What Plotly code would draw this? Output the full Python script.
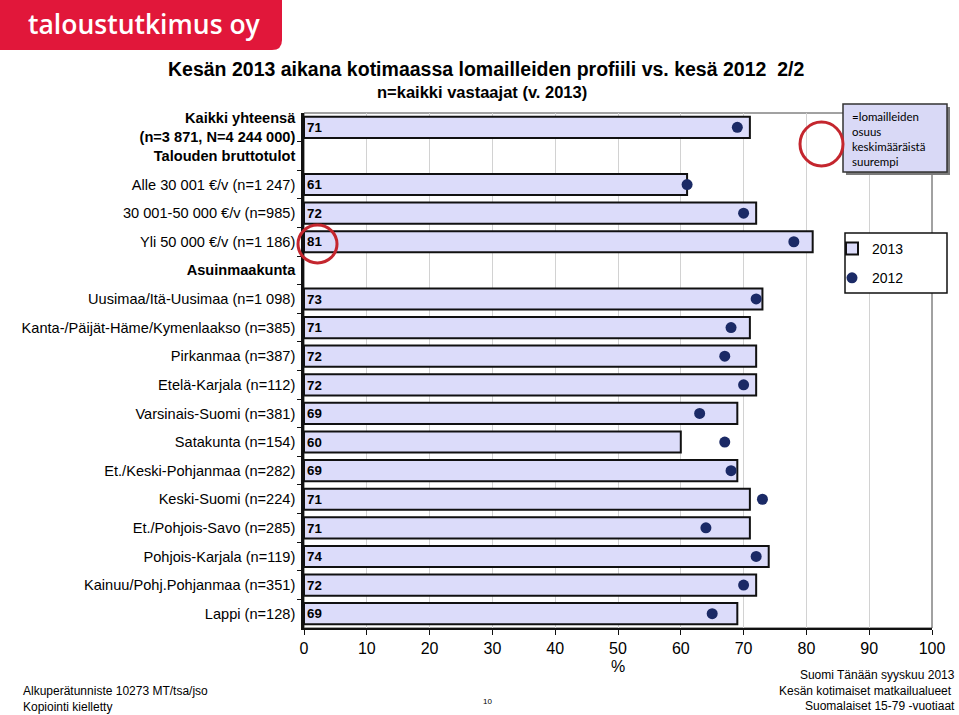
import plotly.graph_objects as go

# ---------------- data ----------------
categories = [
    "Kaikki yhteensä<br>(n=3 871, N=4 244 000)",
    "Talouden bruttotulot",
    "Alle 30 001 €/v (n=1 247)",
    "30 001-50 000 €/v (n=985)",
    "Yli 50 000 €/v (n=1 186)",
    "Asuinmaakunta",
    "Uusimaa/Itä-Uusimaa (n=1 098)",
    "Kanta-/Päijät-Häme/Kymenlaakso (n=385)",
    "Pirkanmaa (n=387)",
    "Etelä-Karjala (n=112)",
    "Varsinais-Suomi (n=381)",
    "Satakunta (n=154)",
    "Et./Keski-Pohjanmaa (n=282)",
    "Keski-Suomi (n=224)",
    "Et./Pohjois-Savo (n=285)",
    "Pohjois-Karjala (n=119)",
    "Kainuu/Pohj.Pohjanmaa (n=351)",
    "Lappi (n=128)",
]
bold_rows = [0, 1, 5]
values_2013 = [71, None, 61, 72, 81, None, 73, 71, 72, 72, 69, 60, 69, 71, 71, 74, 72, 69]
values_2012 = [69, None, 61, 70, 78, None, 72, 68, 67, 70, 63, 67, 68, 73, 64, 72, 70, 65]
x_ticks = [0, 10, 20, 30, 40, 50, 60, 70, 80, 90, 100]

rows = list(range(len(categories)))
tick_text = [f"<b>{c}</b>" if i in bold_rows else c for i, c in enumerate(categories)]

# ---------------- layout helpers (pixel -> paper) ----------------
W, H = 959, 715
L, R, T, B = 304, 932, 113, 628


def px(x):
    return (x - L) / (R - L)


def py(y):
    return (B - y) / (B - T)


FONT = "Liberation Sans, Arial, sans-serif"
BAR_FILL = "#dcdcfa"
DOT = "#1b2a66"
RED = "#c4262e"

fig = go.Figure()
fig.add_trace(go.Bar(
    x=values_2013, y=rows, orientation="h", name="2013",
    width=0.74,
    marker=dict(color=BAR_FILL, line=dict(color="#111111", width=2)),
    text=[str(v) if v is not None else "" for v in values_2013],
    textposition="inside", insidetextanchor="start", textangle=0,
    textfont=dict(family=FONT, size=14, color="black", weight="bold"),
    legendgroup="a",
))
fig.add_trace(go.Scatter(
    x=values_2012, y=rows, mode="markers", name="2012",
    marker=dict(color=DOT, size=11),
    legendgroup="b",
))

shapes = []
# plot frame
shapes.append(dict(type="rect", xref="paper", yref="paper", x0=0, x1=1, y0=0, y1=1,
                   line=dict(color="#444444", width=1), layer="below"))
# logo
shapes.append(dict(
    type="path", xref="paper", yref="paper",
    path=(f"M {px(0)},{py(0)} L {px(282)},{py(0)} L {px(282)},{py(40)} "
          f"Q {px(282)},{py(50)} {px(272)},{py(50)} L {px(0)},{py(50)} Z"),
    fillcolor="#e1173a", line=dict(width=0)))
# note box (shadow + box)
shapes.append(dict(type="rect", xref="paper", yref="paper",
                   x0=px(846), x1=px(950), y0=py(175), y1=py(107),
                   fillcolor="#7a7a7a", line=dict(width=0)))
shapes.append(dict(type="rect", xref="paper", yref="paper",
                   x0=px(843), x1=px(947), y0=py(172), y1=py(104),
                   fillcolor="#d9d9f6", line=dict(color="#333333", width=1.5)))
# legend box
shapes.append(dict(type="rect", xref="paper", yref="paper",
                   x0=px(845), x1=px(947), y0=py(293), y1=py(233),
                   fillcolor="white", line=dict(color="#111111", width=1.5)))
# red circles
shapes.append(dict(type="circle", xref="paper", yref="paper",
                   x0=px(800), x1=px(843), y0=py(166), y1=py(122),
                   line=dict(color=RED, width=3)))
shapes.append(dict(type="circle", xref="paper", yref="paper",
                   x0=px(298), x1=px(337), y0=py(263), y1=py(225),
                   line=dict(color=RED, width=3)))

annotations = [
    dict(text="taloustutkimus oy", x=px(26), y=py(24), xanchor="left", yanchor="middle",
         font=dict(family="Open Sans, sans-serif", size=26.5, color="white", weight=600)),
    dict(text="<b>Kesän 2013 aikana kotimaassa lomailleiden profiili vs. kesä 2012  2/2</b>",
         x=px(486), y=py(69), xanchor="center", yanchor="middle",
         font=dict(family=FONT, size=19.5, color="black")),
    dict(text="<b>n=kaikki vastaajat (v. 2013)</b>",
         x=px(482), y=py(92), xanchor="center", yanchor="middle",
         font=dict(family=FONT, size=16.5, color="black")),
    dict(text="=lomailleiden<br>osuus<br>keskimääräistä<br>suurempi",
         x=px(850), y=py(108), xanchor="left", yanchor="top", align="left",
         font=dict(family="Lato, sans-serif", size=11.5, color="black")),
    dict(text="Alkuperätunniste 10273 MT/tsa/jso<br>Kopiointi kielletty",
         x=px(21), y=py(699), xanchor="left", yanchor="middle", align="left",
         font=dict(family=FONT, size=12, color="black")),
    dict(text="10", x=px(487), y=py(701), xanchor="center", yanchor="middle",
         font=dict(family=FONT, size=8, color="black")),
    dict(text="Suomi Tänään syyskuu 2013<br>Kesän kotimaiset matkailualueet <br>Suomalaiset 15-79 -vuotiaat",
         x=px(957), y=py(690), xanchor="right", yanchor="middle", align="right",
         font=dict(family=FONT, size=12, color="black")),
]
for a in annotations:
    a.update(xref="paper", yref="paper", showarrow=False)

fig.update_layout(
    width=W, height=H,
    margin=dict(l=L, r=W - R, t=T, b=H - B),
    paper_bgcolor="white", plot_bgcolor="white",
    font=dict(family=FONT, color="black"),
    showlegend=True,
    legend=dict(x=px(832), y=py(233), xanchor="left", yanchor="top",
                bgcolor="rgba(0,0,0,0)", borderwidth=0,
                font=dict(family=FONT, size=14, color="black"),
                traceorder="grouped", tracegroupgap=8),
    bargap=0.26,
    shapes=shapes,
    annotations=annotations,
    xaxis=dict(range=[0, 100], tickvals=x_ticks, showgrid=True, gridcolor="#d2d2d2", gridwidth=1,
               showline=True, linecolor="#111111", linewidth=2, ticks="outside", ticklen=5,
               tickcolor="#111111", tickfont=dict(size=16, family=FONT), zeroline=False,
               title=dict(text="%", font=dict(size=16, family=FONT), standoff=5),
               automargin=False, fixedrange=True),
    yaxis=dict(range=[17.5, -0.5], tickvals=rows, ticktext=tick_text, showgrid=False,
               showline=True, linecolor="#111111", linewidth=2.5, ticks="",
               tickfont=dict(size=14.6, family=FONT), ticklabelstandoff=3, zeroline=False,
               minor=dict(tickvals=[r + 0.5 for r in rows[:-1]], ticks="outside", ticklen=4,
                          tickcolor="#111111", showgrid=False),
               automargin=False, fixedrange=True),
)

fig.write_html("out.html", config={"displayModeBar": False},
               post_script="document.body.style.margin='0';")
